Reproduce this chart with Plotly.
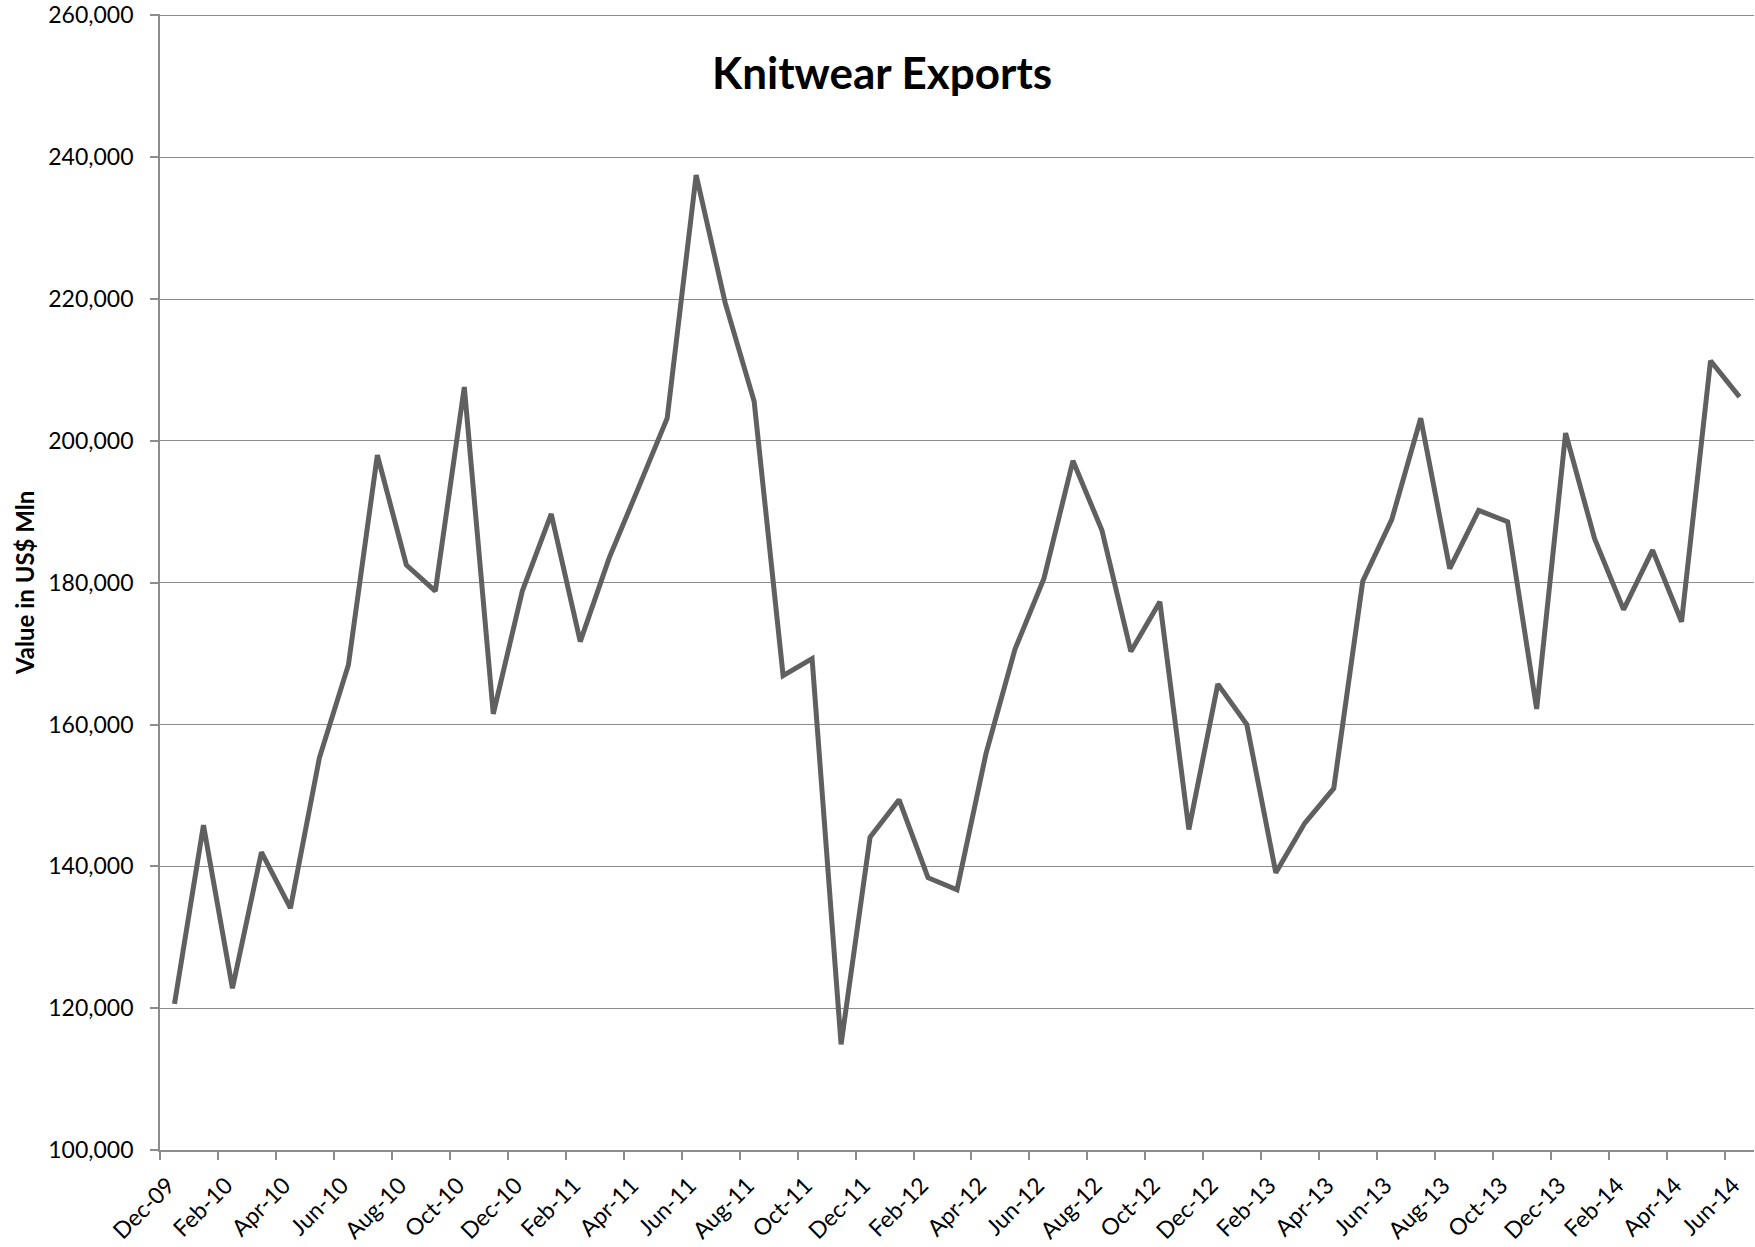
import plotly.graph_objects as go

months = [
    "Dec-09", "Jan-10", "Feb-10", "Mar-10", "Apr-10", "May-10", "Jun-10", "Jul-10",
    "Aug-10", "Sep-10", "Oct-10", "Nov-10", "Dec-10", "Jan-11", "Feb-11", "Mar-11",
    "Apr-11", "May-11", "Jun-11", "Jul-11", "Aug-11", "Sep-11", "Oct-11", "Nov-11",
    "Dec-11", "Jan-12", "Feb-12", "Mar-12", "Apr-12", "May-12", "Jun-12", "Jul-12",
    "Aug-12", "Sep-12", "Oct-12", "Nov-12", "Dec-12", "Jan-13", "Feb-13", "Mar-13",
    "Apr-13", "May-13", "Jun-13", "Jul-13", "Aug-13", "Sep-13", "Oct-13", "Nov-13",
    "Dec-13", "Jan-14", "Feb-14", "Mar-14", "Apr-14", "May-14", "Jun-14",
]

exports = [
    120600, 145800, 122800, 142000, 134100, 155300, 168400, 198000,
    182500, 178800, 207600, 161500, 178800, 189700, 171700, 183500,
    193300, 203200, 237500, 219500, 205600, 166900, 169300, 114900,
    144100, 149400, 138400, 136700, 155900, 170600, 180600, 197200,
    187400, 170300, 177300, 145200, 165700, 160000, 139100, 146100,
    151000, 180200, 188900, 203200, 182000, 190200, 188600, 162200,
    201100, 186200, 176200, 184600, 174500, 211300, 206200,
]

tick_labels = [
    "Dec-09", "Feb-10", "Apr-10", "Jun-10", "Aug-10", "Oct-10", "Dec-10",
    "Feb-11", "Apr-11", "Jun-11", "Aug-11", "Oct-11", "Dec-11", "Feb-12",
    "Apr-12", "Jun-12", "Aug-12", "Oct-12", "Dec-12", "Feb-13", "Apr-13",
    "Jun-13", "Aug-13", "Oct-13", "Dec-13", "Feb-14", "Apr-14", "Jun-14",
]

y_ticks = [100000, 120000, 140000, 160000, 180000, 200000, 220000, 240000, 260000]

title_text = "Knitwear Exports"
y_title = "Value in US$ Mln"

x_idx = list(range(len(months)))
tick_pos = [months.index(t) - 0.5 for t in tick_labels]

FONT = "Lato, 'Open Sans', sans-serif"
GRID = "#8c8c8c"

W, H = 1755, 1247
ML, MR, MT, MB = 160, 1, 14, 97
pw = W - ML - MR
ph = H - MT - MB

fig = go.Figure()
fig.add_trace(go.Scatter(
    x=x_idx, y=exports, mode="lines",
    line=dict(color="#606060", width=5),
    text=months, hovertemplate="%{text}: %{y:,}<extra></extra>",
    showlegend=False,
))

fig.update_layout(
    width=W, height=H,
    margin=dict(l=ML, r=MR, t=MT, b=MB, autoexpand=False),
    paper_bgcolor="white", plot_bgcolor="white",
    font=dict(family=FONT, size=23, color="black"),
    showlegend=False,
    xaxis=dict(
        range=[-0.5, len(months) - 0.5],
        tickmode="array", tickvals=tick_pos, ticktext=tick_labels,
        tickangle=-45, ticks="outside", ticklen=8, tickwidth=1.5, tickcolor=GRID,
        showline=True, linecolor=GRID, linewidth=1.8,
        showgrid=False, zeroline=False, automargin=False,
        ticklabeloverflow="allow",
        ticklabelstandoff=3, ticklabelshift=8,
        tickfont=dict(family=FONT, size=23, color="black"),
    ),
    yaxis=dict(
        range=[100000, 260200],
        tickmode="array", tickvals=y_ticks,
        tickformat=",d",
        ticks="outside", ticklen=8, tickwidth=1.5, tickcolor=GRID,
        showline=True, linecolor=GRID, linewidth=1.8,
        showgrid=True, gridcolor=GRID, gridwidth=1.3,
        zeroline=False, automargin=False,
        ticklabeloverflow="allow",
        ticklabelstandoff=12,
        tickfont=dict(family=FONT, size=23, color="black"),
    ),
    annotations=[
        dict(text="<b>" + title_text + "</b>", xref="paper", yref="paper",
             x=(882 - ML) / pw, y=(H - MB - 72) / ph,
             xanchor="center", yanchor="middle", showarrow=False,
             font=dict(family=FONT, size=44, color="black")),
        dict(text="<b>" + y_title + "</b>", textangle=-90, xref="paper", yref="paper",
             x=(24 - ML) / pw, y=(H - MB - 583) / ph,
             xanchor="center", yanchor="middle", showarrow=False,
             font=dict(family=FONT, size=24, color="black")),
    ],
)

fig.write_html(
    "out.html",
    config={"displayModeBar": False},
    post_script="document.body.style.margin='0';document.body.style.overflow='hidden';",
)
